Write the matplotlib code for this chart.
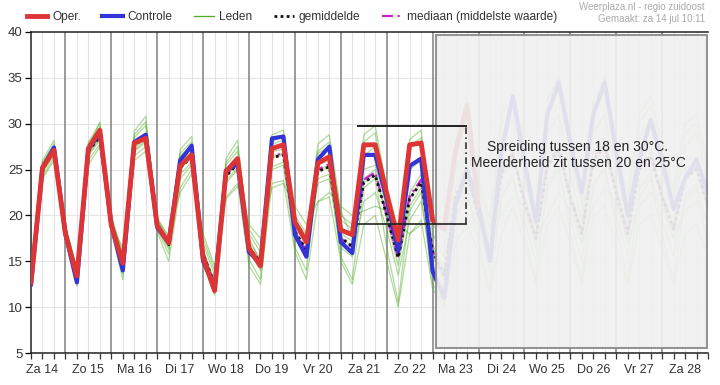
import numpy as np
import matplotlib
matplotlib.use("Agg")
import matplotlib.pyplot as plt
from matplotlib.patches import Rectangle

plt.rcParams['font.family'] = ['Liberation Sans', 'DejaVu Sans']

# uren vanaf za 14 jul 00:00, elke 6 uur
hours = np.arange(6, 361, 6)
day_labels = ['Za 14', 'Zo 15', 'Ma 16', 'Di 17', 'Wo 18', 'Do 19', 'Vr 20', 'Za 21',
              'Zo 22', 'Ma 23', 'Di 24', 'Wo 25', 'Do 26', 'Vr 27', 'Za 28']

oper = [12.7, 25.2, 27.1, 18.0, 13.4, 27.3, 29.3, 18.9, 14.8, 27.9, 28.4, 18.9,
        17.0, 25.4, 26.6, 15.4, 11.8, 24.8, 26.2, 16.4, 14.5, 27.3, 27.7, 19.3,
        17.1, 25.7, 26.4, 18.4, 17.9, 27.7, 27.7, 22.4, 17.3, 27.7, 27.9, 19.5,
        18.5, 27.0, 32.0, 21.0]

controle = [12.5, 25.2, 27.4, 18.0, 12.7, 27.2, 29.0, 19.0, 14.0, 28.0, 28.8, 18.7,
            17.0, 26.0, 27.6, 15.0, 12.2, 24.9, 25.6, 16.0, 14.8, 28.4, 28.6, 17.9,
            15.5, 26.1, 27.5, 17.1, 15.9, 26.6, 26.6, 21.8, 16.1, 25.4, 26.2, 13.9,
            11.0, 21.0, 25.0, 21.0, 15.0, 27.0, 33.0, 26.0, 19.3, 31.0, 34.5, 28.0,
            22.5, 31.0, 34.5, 27.0, 20.0, 26.0, 30.4, 26.0, 20.7, 24.0, 26.1, 22.5]

gemiddelde = [12.8, 25.0, 27.0, 18.3, 13.5, 27.0, 28.6, 19.2, 14.8, 27.6, 28.6, 19.0,
              16.8, 25.2, 26.4, 15.8, 12.5, 24.3, 25.6, 16.5, 14.9, 26.3, 26.6, 18.3,
              16.2, 24.8, 25.3, 17.6, 16.6, 23.6, 24.4, 20.0, 15.4, 21.8, 23.6, 16.1,
              13.5, 22.0, 24.5, 20.0, 16.0, 24.5, 26.5, 21.5, 17.5, 25.5, 27.0, 22.0,
              18.0, 26.0, 27.5, 22.5, 18.0, 25.0, 26.5, 22.0, 18.5, 24.0, 25.0, 21.0]

mediaan = [12.8, 25.1, 27.1, 18.3, 13.5, 27.1, 28.7, 19.2, 14.8, 27.7, 28.7, 19.0,
           16.9, 25.3, 26.5, 15.8, 12.5, 24.4, 25.7, 16.5, 14.9, 26.4, 26.8, 18.2,
           16.1, 25.0, 25.6, 17.5, 16.5, 23.9, 24.7, 20.1, 15.3, 22.1, 23.9, 16.0,
           13.3, 22.3, 24.8, 20.2, 16.0, 24.8, 26.8, 21.7, 17.5, 25.8, 27.3, 22.2,
           18.0, 26.3, 27.8, 22.7, 18.0, 25.3, 26.8, 22.2, 18.5, 24.2, 25.3, 21.2]

leden = [
    [13.0, 26.0, 28.2, 19.0, 14.0, 28.0, 30.0, 20.0, 15.5, 28.8, 30.2, 19.8,
     17.5, 26.8, 28.0, 17.0, 13.5, 25.8, 27.5, 18.0, 16.0, 28.0, 28.8, 20.0,
     18.0, 27.0, 28.0, 20.0, 19.0, 28.0, 29.0, 22.5, 18.0, 27.5, 28.5, 19.0,
     17.5, 27.0, 30.0, 23.0, 18.5, 30.0, 32.0, 25.0, 20.0, 31.5, 33.5, 26.5,
     21.0, 31.5, 33.5, 27.0, 21.0, 30.0, 32.0, 27.0, 22.0, 29.0, 30.0, 25.0],
    [12.4, 24.0, 26.0, 17.5, 12.3, 25.5, 27.5, 18.3, 13.0, 26.0, 27.0, 18.2,
     15.0, 23.0, 25.0, 14.8, 11.3, 22.0, 23.5, 14.5, 12.5, 23.5, 23.8, 16.0,
     13.0, 21.5, 22.0, 15.0, 12.5, 19.0, 20.0, 15.0, 10.0, 18.0, 19.5, 12.0,
     10.0, 17.0, 19.0, 16.0, 11.5, 18.0, 21.0, 17.0, 12.5, 19.0, 21.0, 17.0,
     12.5, 20.0, 21.0, 16.5, 12.5, 19.0, 20.0, 16.5, 12.5, 18.0, 19.0, 15.5],
    [12.9, 25.5, 27.5, 18.5, 13.8, 27.3, 29.0, 19.5, 15.2, 27.8, 29.0, 19.2,
     17.0, 25.8, 27.0, 16.3, 12.8, 25.0, 26.2, 17.0, 15.3, 27.0, 27.2, 18.8,
     16.8, 25.5, 26.0, 18.0, 17.2, 25.0, 25.5, 21.0, 16.0, 22.5, 24.5, 16.8,
     14.0, 23.0, 25.5, 20.5, 16.5, 25.0, 27.0, 22.0, 18.0, 26.5, 28.0, 22.5,
     18.5, 27.0, 28.5, 23.0, 18.5, 26.0, 27.5, 22.5, 19.0, 25.0, 26.0, 21.5],
    [12.6, 24.6, 26.6, 18.0, 13.2, 26.5, 28.2, 19.0, 14.2, 27.0, 28.0, 18.7,
     16.3, 24.5, 25.8, 15.4, 12.0, 23.5, 25.0, 16.0, 14.0, 25.3, 25.8, 17.6,
     15.5, 23.5, 24.0, 16.5, 15.5, 21.5, 22.5, 18.5, 13.5, 19.5, 21.5, 14.5,
     12.0, 20.0, 22.0, 18.5, 14.0, 22.0, 24.0, 19.5, 15.0, 23.0, 25.0, 19.5,
     15.0, 23.5, 25.0, 20.0, 15.5, 23.0, 24.5, 19.5, 15.5, 22.0, 23.5, 18.5],
    [13.2, 25.8, 27.8, 18.8, 14.2, 27.8, 29.6, 19.8, 16.0, 28.5, 29.8, 19.5,
     17.3, 26.5, 27.6, 17.5, 14.0, 25.5, 27.0, 18.5, 16.5, 27.8, 28.2, 19.5,
     17.8, 26.8, 27.5, 19.5, 18.5, 26.5, 27.5, 20.5, 17.0, 25.0, 26.0, 18.0,
     15.5, 25.0, 27.5, 21.5, 17.5, 28.0, 30.5, 24.0, 19.0, 29.0, 31.0, 24.5,
     19.5, 29.0, 31.0, 25.0, 19.5, 28.5, 30.5, 25.5, 20.5, 27.5, 29.0, 23.5],
    [12.5, 24.2, 26.3, 18.2, 13.0, 26.0, 27.8, 18.8, 16.5, 26.5, 27.5, 19.5,
     17.8, 22.5, 24.5, 18.0, 14.5, 21.8, 23.2, 19.0, 17.5, 23.0, 23.5, 21.0,
     19.0, 21.5, 22.5, 21.0, 20.0, 20.5, 21.0, 20.5, 19.0, 18.0, 19.0, 19.5,
     18.5, 17.5, 18.5, 20.0, 19.0, 20.0, 22.0, 21.0, 17.5, 20.0, 22.5, 20.5,
     17.0, 21.0, 23.0, 21.5, 17.0, 21.0, 22.5, 21.0, 17.5, 20.5, 21.5, 19.5],
    [12.7, 25.2, 27.3, 18.4, 13.6, 27.5, 30.2, 19.3, 14.5, 29.2, 30.8, 19.0,
     16.8, 27.2, 28.6, 16.0, 12.5, 26.2, 28.2, 17.5, 15.0, 28.8, 29.3, 19.0,
     17.5, 27.8, 28.8, 20.5, 17.5, 28.8, 29.8, 23.0, 18.5, 28.3, 29.3, 19.5,
     18.5, 28.0, 31.0, 24.0, 19.5, 31.0, 33.0, 26.0, 21.0, 32.5, 35.0, 27.5,
     22.0, 32.5, 35.0, 28.0, 22.0, 31.0, 33.0, 28.0, 23.0, 30.0, 31.0, 26.0],
    [12.5, 24.8, 26.8, 17.8, 12.6, 26.7, 28.4, 18.6, 13.6, 27.1, 28.2, 18.5,
     15.8, 24.0, 25.5, 15.0, 11.5, 23.8, 25.2, 15.2, 13.0, 25.0, 25.5, 16.5,
     14.0, 24.0, 24.5, 15.5, 13.0, 23.0, 24.0, 16.5, 10.5, 20.5, 22.5, 12.5,
     10.5, 19.5, 23.0, 17.0, 12.0, 22.0, 24.5, 18.0, 13.0, 23.5, 25.5, 18.0,
     13.0, 23.0, 25.5, 18.5, 13.0, 22.0, 24.0, 18.0, 13.0, 21.5, 23.0, 16.5],
    [13.1, 25.4, 27.2, 18.7, 13.9, 27.0, 28.8, 19.6, 15.0, 27.4, 28.4, 19.0,
     16.6, 25.0, 26.8, 16.2, 12.3, 24.5, 26.0, 16.8, 14.5, 26.5, 26.8, 18.2,
     16.2, 25.0, 25.5, 17.2, 16.0, 24.0, 25.0, 19.5, 14.5, 21.0, 23.0, 15.5,
     13.0, 21.5, 24.0, 19.5, 15.0, 24.0, 26.5, 21.0, 16.5, 25.0, 27.0, 21.5,
     17.0, 25.5, 27.5, 22.0, 17.0, 25.0, 26.5, 21.5, 17.5, 24.0, 25.0, 20.5],
    [12.8, 25.0, 27.0, 18.3, 13.3, 26.8, 28.6, 19.2, 14.8, 27.6, 28.6, 19.0,
     16.9, 25.2, 26.4, 15.8, 12.6, 24.3, 25.6, 16.5, 14.9, 26.3, 26.6, 18.3,
     16.2, 24.8, 25.3, 17.6, 16.6, 23.6, 24.4, 20.0, 15.4, 21.8, 23.6, 16.1,
     13.5, 22.0, 24.5, 20.0, 16.0, 24.5, 26.5, 21.5, 17.5, 25.5, 27.0, 22.0,
     18.0, 26.0, 27.5, 22.5, 18.0, 25.0, 26.5, 22.0, 18.5, 24.0, 25.0, 21.0],
]

fig = plt.figure(figsize=(7.2, 3.85), dpi=100)
ax = fig.add_axes([31 / 720, 32 / 385, 677 / 720, 321 / 385])

# rasterlijnen: licht elke 6 uur, donker om middernacht
for h in range(12, 360, 6):
    if h % 24 == 0:
        ax.axvline(h, color='#8a8a8a', lw=1.2, zorder=1)
    else:
        ax.axvline(h, color='#e2e2e2', lw=0.8, zorder=0)
for v in range(10, 40, 5):
    ax.axhline(v, color='#e4e4e4', lw=0.8, zorder=0)

for i, lid in enumerate(leden):
    ax.plot(hours, lid, color='#4fae22', lw=0.9, alpha=0.45, zorder=2,
            label='Leden' if i == 0 else None)

ax.plot(hours, mediaan, color='#cc22cc', lw=1.6, ls=(0, (5, 2, 1, 2)), zorder=3,
        label='mediaan (middelste waarde)')
ax.plot(hours, gemiddelde, color='#111111', lw=2.0, ls=(0, (1, 1.2)), zorder=4,
        label='gemiddelde')
ax.plot(hours, controle, color='#3333d6', lw=3.0, zorder=5, label='Controle')
ax.plot(hours[:len(oper)], oper, color='#dd3535', lw=3.5, zorder=6, label='Oper.')

# grijze sluier over de verre termijn
ax.add_patch(Rectangle((218, 5.5), 141.7, 34.2, facecolor='#f0f0f0', alpha=0.92,
                       edgecolor='#8c8c8c', lw=1.5, zorder=7))

# annotatie spreiding
ax.plot([177, 233.2], [29.7, 29.7], color='#222222', lw=1.4, zorder=8)
ax.plot([177, 233.2], [19.1, 19.1], color='#222222', lw=1.2, zorder=8)
ax.plot([233.2, 233.2], [19.1, 29.7], color='#333333', lw=1.2,
        ls=(0, (4, 2, 1, 2)), zorder=8)
ax.text(292, 26.6, 'Spreiding tussen 18 en 30°C.\nMeerderheid zit tussen 20 en 25°C',
        ha='center', va='center', fontsize=10, color='#222222', linespacing=1.15,
        zorder=9)

ax.set_xlim(6, 360)
ax.set_ylim(5, 40)
ax.set_yticks(range(5, 41, 5))
ax.set_xticks(range(6, 361, 6))
ax.set_xticklabels([])
ax.tick_params(axis='x', direction='out', length=4, width=0.9, color='#333333')
ax.tick_params(axis='y', direction='out', length=4, width=0.9, labelsize=9.5,
               labelcolor='#333333', pad=2)
for i, lab in enumerate(day_labels):
    ax.text(12 + 24 * i, -0.035, lab, transform=ax.get_xaxis_transform(),
            ha='center', va='top', fontsize=9, color='#333333')
for s in ['left', 'bottom', 'top']:
    ax.spines[s].set_color('#222222')
    ax.spines[s].set_linewidth(1.1)
ax.spines['right'].set_visible(False)

handles, labels = ax.get_legend_handles_labels()
order = ['Oper.', 'Controle', 'Leden', 'gemiddelde', 'mediaan (middelste waarde)']
hmap = dict(zip(labels, handles))
leg = fig.legend([hmap[k] for k in order], order, loc='center left',
                 bbox_to_anchor=(27 / 720, 1 - 17 / 385), ncol=5, frameon=False,
                 fontsize=8.6, handlelength=1.7, handletextpad=0.4,
                 columnspacing=1.8, borderaxespad=0, borderpad=0)
for t in leg.get_texts():
    t.set_color('#333333')
for lh in leg.get_lines():
    lh.set_alpha(1)

fig.text(705 / 720, 1 - 7 / 385, 'Weerplaza.nl - regio zuidoost', ha='right',
         va='center', fontsize=7, color='#aaaaaa')
fig.text(705 / 720, 1 - 19 / 385, 'Gemaakt: za 14 jul 10:11', ha='right',
         va='center', fontsize=7, color='#aaaaaa')

fig.savefig('out.png', dpi=100)
